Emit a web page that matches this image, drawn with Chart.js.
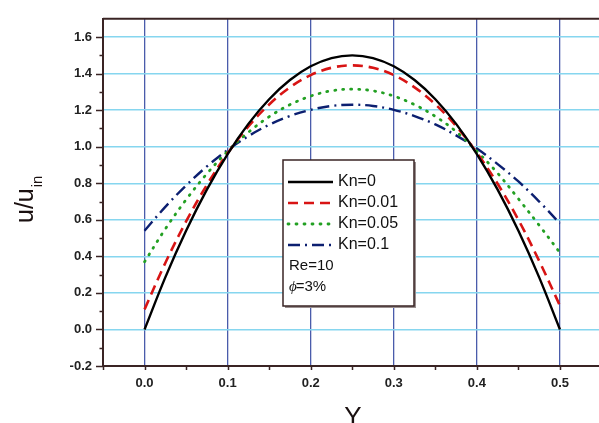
<!DOCTYPE html>
<html>
<head>
<meta charset="utf-8">
<script src="https://cdn.jsdelivr.net/npm/chart.js@4.4.1/dist/chart.umd.min.js"></script>
<style>
  body { margin: 0; background: #fff; }
  canvas { display: block; }
</style>
</head>
<body>
<canvas id="velocityChart" width="599" height="423"></canvas>
<script>
// Y positions across the channel
const yPositions = [0, 0.025, 0.05, 0.075, 0.1, 0.125, 0.15, 0.175, 0.2, 0.225, 0.25,
                    0.275, 0.3, 0.325, 0.35, 0.375, 0.4, 0.425, 0.45, 0.475, 0.5];

// u/u_in for each Knudsen number
const kn0   = [0, 0.285, 0.54, 0.765, 0.96, 1.125, 1.26, 1.365, 1.44, 1.485, 1.5,
               1.485, 1.44, 1.365, 1.26, 1.125, 0.96, 0.765, 0.54, 0.285, 0];
const kn001 = [0.11, 0.364, 0.591, 0.791, 0.964, 1.111, 1.231, 1.325, 1.392, 1.432, 1.445,
               1.432, 1.392, 1.325, 1.232, 1.113, 0.967, 0.797, 0.6, 0.375, 0.13];
const kn005 = [0.37, 0.55, 0.71, 0.852, 0.975, 1.079, 1.164, 1.23, 1.277, 1.306, 1.315,
               1.306, 1.277, 1.23, 1.166, 1.083, 0.975, 0.855, 0.715, 0.57, 0.42];
const kn01  = [0.54, 0.671, 0.788, 0.892, 0.982, 1.058, 1.12, 1.168, 1.202, 1.223, 1.23,
               1.223, 1.202, 1.168, 1.122, 1.062, 0.99, 0.905, 0.81, 0.7, 0.58];

const seriesLabels = ['Kn=0', 'Kn=0.01', 'Kn=0.05', 'Kn=0.1'];
const xTickValues = [0, 0.1, 0.2, 0.3, 0.4, 0.5];
const xMinorTicks = [-0.05, 0.05, 0.15, 0.25, 0.35, 0.45, 0.55];
const yTickValues = [-0.2, 0, 0.2, 0.4, 0.6, 0.8, 1.0, 1.2, 1.4, 1.6];
const yMinorTicks = [-0.1, 0.1, 0.3, 0.5, 0.7, 0.9, 1.1, 1.3, 1.5];
const noteLines = ['Re=10', '=3%'];

const axisColor = '#3a2424';
const tickFont = { family: '"Liberation Sans", Arial, sans-serif', size: 13, weight: 'bold' };

function toPoints(vals) {
    return yPositions.map((y, i) => ({ x: y, y: vals[i] }));
}

const seriesStyles = [
    { color: '#000000', width: 2.4, dash: [] },
    { color: '#d81414', width: 2.6, dash: [10, 6] },
    { color: '#23a023', width: 2.8, dash: [1, 7] },
    { color: '#0c1f70', width: 2.4, dash: [12, 5, 2, 5] }
];

const datasets = [kn0, kn001, kn005, kn01].map((vals, i) => ({
    label: seriesLabels[i],
    data: toPoints(vals),
    borderColor: seriesStyles[i].color,
    borderWidth: seriesStyles[i].width,
    borderDash: seriesStyles[i].dash,
    borderCapStyle: i === 2 ? 'round' : 'butt',
    pointRadius: 0,
    tension: 0.35,
    fill: false
}));

// draws top frame, tick marks, axis titles and the boxed legend
const decorPlugin = {
    id: 'decor',
    afterDraw(chart) {
        const ctx = chart.ctx;
        const area = chart.chartArea;
        const xs = chart.scales.x, ys = chart.scales.y;
        ctx.save();

        // top frame line
        ctx.strokeStyle = axisColor;
        ctx.lineWidth = 2;
        ctx.beginPath();
        ctx.moveTo(area.left, area.top);
        ctx.lineTo(area.right, area.top);
        ctx.stroke();

        // tick marks
        ctx.lineWidth = 1.5;
        ctx.beginPath();
        yTickValues.forEach(v => {
            const py = Math.round(ys.getPixelForValue(v)) + 0.5;
            ctx.moveTo(area.left - 7, py); ctx.lineTo(area.left, py);
        });
        yMinorTicks.forEach(v => {
            const py = Math.round(ys.getPixelForValue(v)) + 0.5;
            ctx.moveTo(area.left - 3.5, py); ctx.lineTo(area.left, py);
        });
        xTickValues.concat(xMinorTicks).forEach(v => {
            const px = Math.round(xs.getPixelForValue(v)) + 0.5;
            if (px > area.right) return;
            ctx.moveTo(px, area.bottom); ctx.lineTo(px, area.bottom + 4);
        });
        ctx.stroke();

        // axis titles
        ctx.fillStyle = '#1a1010';
        ctx.font = '26px "Liberation Sans", Arial, sans-serif';
        ctx.textAlign = 'center';
        ctx.textBaseline = 'alphabetic';
        ctx.fillText('Y', 353, 425);

        ctx.save();
        ctx.translate(33, 223);
        ctx.rotate(-Math.PI / 2);
        ctx.textAlign = 'left';
        ctx.font = '25px "Liberation Sans", Arial, sans-serif';
        ctx.fillText('u/u', 0, 0);
        const w = ctx.measureText('u/u').width;
        ctx.font = '15px "Liberation Sans", Arial, sans-serif';
        ctx.fillText('in', w + 1, 9);
        ctx.restore();

        // legend box
        const bx = 283, by = 160, bw = 131, bh = 146;
        ctx.fillStyle = '#9a9090';
        ctx.fillRect(bx + 2, by + 2, bw, bh);
        ctx.fillStyle = '#ffffff';
        ctx.fillRect(bx, by, bw, bh);
        ctx.strokeStyle = axisColor;
        ctx.lineWidth = 1.5;
        ctx.strokeRect(bx, by, bw, bh);

        ctx.font = '16px "Liberation Sans", Arial, sans-serif';
        ctx.textAlign = 'left';
        ctx.textBaseline = 'middle';
        seriesLabels.forEach((label, i) => {
            const ry = by + 22 + i * 21;
            const st = seriesStyles[i];
            ctx.strokeStyle = st.color;
            ctx.lineWidth = st.width;
            ctx.setLineDash(st.dash);
            ctx.lineCap = i === 2 ? 'round' : 'butt';
            ctx.beginPath();
            ctx.moveTo(bx + 5, ry); ctx.lineTo(bx + 50, ry);
            ctx.stroke();
            ctx.setLineDash([]);
            ctx.fillStyle = '#111';
            ctx.fillText(label, bx + 55, ry);
        });
        ctx.font = '15px "Liberation Sans", Arial, sans-serif';
        ctx.fillText(noteLines[0], bx + 6, by + 106);
        ctx.font = 'italic 15px "Liberation Serif", serif';
        ctx.fillText('\u03d5', bx + 6, by + 127);
        const pw = ctx.measureText('\u03d5').width;
        ctx.font = '15px "Liberation Sans", Arial, sans-serif';
        ctx.fillText(noteLines[1], bx + 5 + pw, by + 127);

        ctx.restore();
    }
};

new Chart(document.getElementById('velocityChart'), {
    type: 'line',
    data: { datasets: datasets },
    options: {
        responsive: false,
        animation: false,
        layout: { padding: { top: 13, right: 0, left: 0, bottom: 0 } },
        plugins: {
            legend: { display: false },
            tooltip: { enabled: false }
        },
        scales: {
            x: {
                type: 'linear',
                min: -0.05,
                max: 0.547,
                afterBuildTicks: s => { s.ticks = xTickValues.map(v => ({ value: v })); },
                afterFit: s => { s.height = 57; },
                ticks: {
                    color: '#222',
                    font: tickFont,
                    padding: 10,
                    maxRotation: 0,
                    callback: v => v.toFixed(1)
                },
                grid: { color: '#4a5cab', lineWidth: 1.3, drawTicks: false },
                border: { color: axisColor, width: 2 }
            },
            y: {
                type: 'linear',
                min: -0.2,
                max: 1.7,
                afterBuildTicks: s => { s.ticks = yTickValues.map(v => ({ value: v })); },
                afterFit: s => { s.width = 103; },
                ticks: {
                    color: '#222',
                    font: tickFont,
                    padding: 11,
                    callback: v => v.toFixed(1)
                },
                grid: {
                    color: c => (c.tick && c.tick.value < -0.1) ? 'rgba(0,0,0,0)' : '#86d6ef',
                    lineWidth: 1.5,
                    drawTicks: false
                },
                border: { color: axisColor, width: 2 }
            }
        }
    },
    plugins: [decorPlugin]
});
</script>
</body>
</html>
